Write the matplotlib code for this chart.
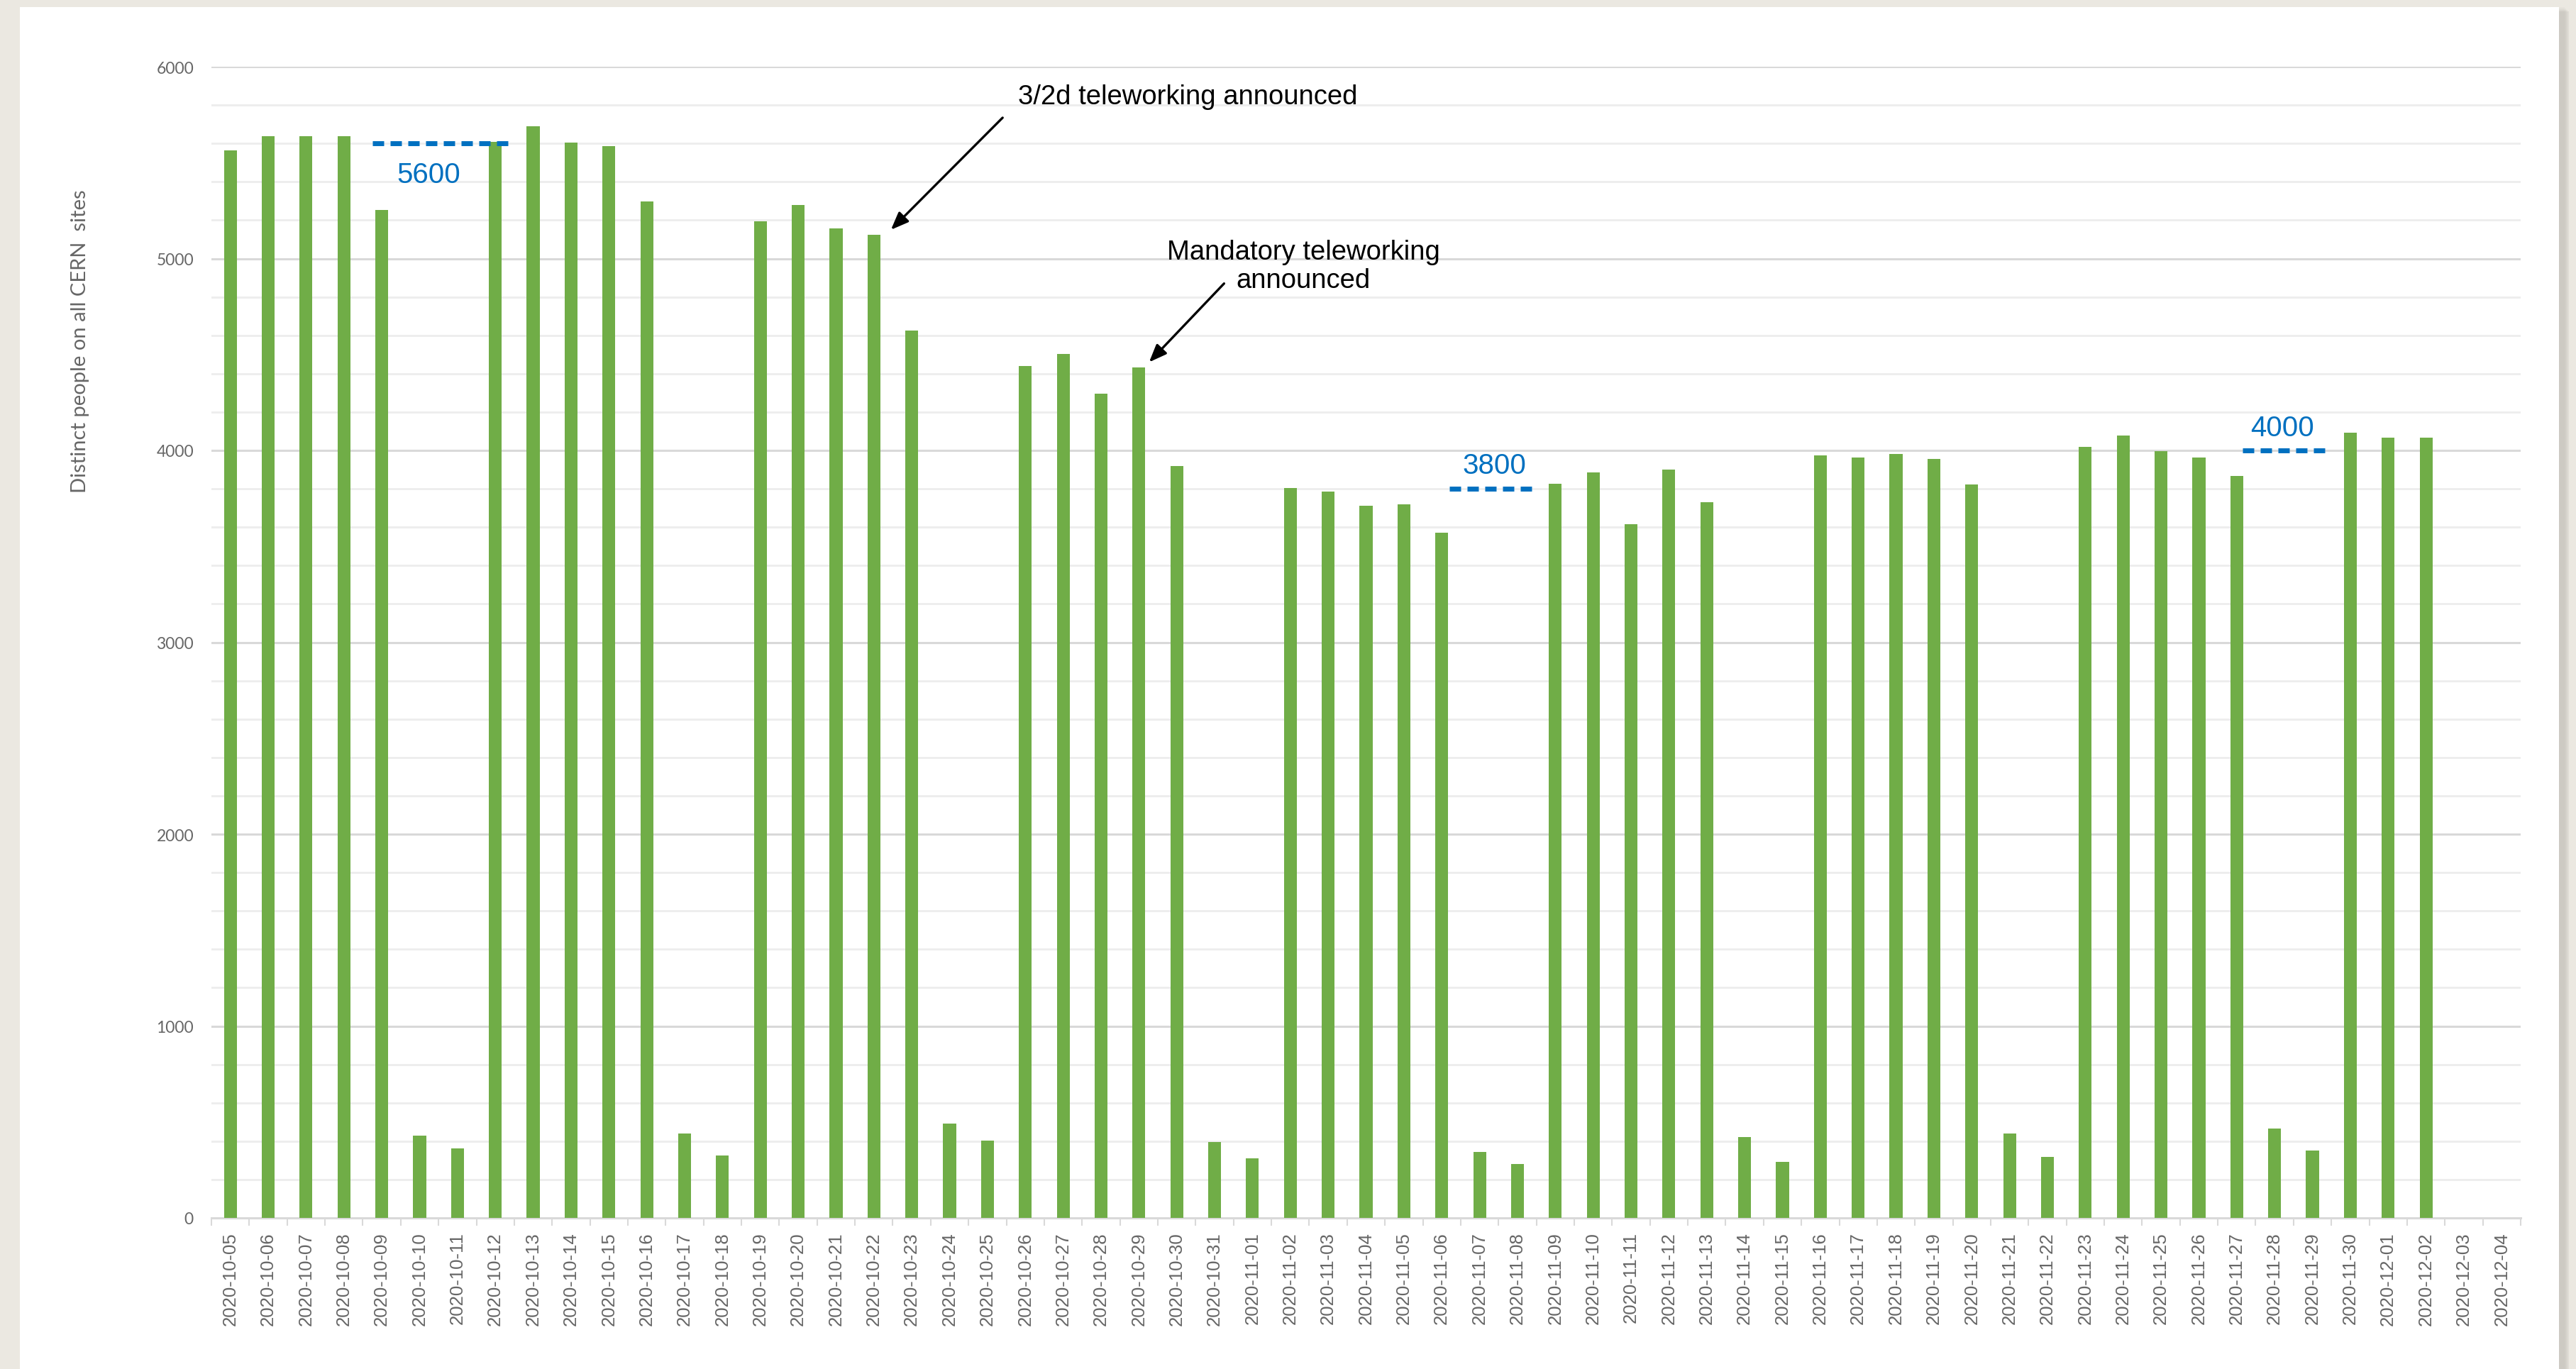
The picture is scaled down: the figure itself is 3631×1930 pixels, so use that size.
import numpy as np
import matplotlib.pyplot as plt
from matplotlib.patches import Rectangle
from matplotlib.ticker import MultipleLocator

# daily counts of distinct people on CERN sites
dates = ["2020-10-05", "2020-10-06", "2020-10-07", "2020-10-08", "2020-10-09", "2020-10-10",
         "2020-10-11", "2020-10-12", "2020-10-13", "2020-10-14", "2020-10-15", "2020-10-16",
         "2020-10-17", "2020-10-18", "2020-10-19", "2020-10-20", "2020-10-21", "2020-10-22",
         "2020-10-23", "2020-10-24", "2020-10-25", "2020-10-26", "2020-10-27", "2020-10-28",
         "2020-10-29", "2020-10-30", "2020-10-31", "2020-11-01", "2020-11-02", "2020-11-03",
         "2020-11-04", "2020-11-05", "2020-11-06", "2020-11-07", "2020-11-08", "2020-11-09",
         "2020-11-10", "2020-11-11", "2020-11-12", "2020-11-13", "2020-11-14", "2020-11-15",
         "2020-11-16", "2020-11-17", "2020-11-18", "2020-11-19", "2020-11-20", "2020-11-21",
         "2020-11-22", "2020-11-23", "2020-11-24", "2020-11-25", "2020-11-26", "2020-11-27",
         "2020-11-28", "2020-11-29", "2020-11-30", "2020-12-01", "2020-12-02", "2020-12-03",
         "2020-12-04"]
people = [5565, 5637, 5637, 5637, 5252, 430, 362, 5608, 5688, 5603, 5585, 5298,
          440, 325, 5193, 5279, 5158, 5122, 4624, 492, 403, 4441, 4503, 4294,
          4432, 3917, 396, 309, 3803, 3786, 3710, 3720, 3571, 344, 282, 3826,
          3887, 3615, 3902, 3730, 421, 291, 3974, 3964, 3983, 3955, 3822, 440,
          317, 4018, 4078, 3997, 3964, 3866, 465, 350, 4094, 4068, 4066, 0, 0]

# reference levels drawn as short dashed lines
ref_levels = [5600, 3800, 4000]
ref_x0 = [3.75, 32.2, 53.15]
ref_x1 = [7.45, 34.55, 55.5]
ref_label_x = [5.24, 33.39, 54.21]
ref_label_y = [5438, 3922, 4118]

green = "#70AD47"
blue = "#0070C0"
grey_txt = "#666666"

fig = plt.figure(figsize=(36.31, 19.31), dpi=100)
fig.patch.set_facecolor("#ebe8e1")

# white card with a soft shadow on the right
W, H = 3631.0, 1931.0
for k, a in enumerate([0.05, 0.07, 0.09, 0.12]):
    fig.patches.append(Rectangle(((28 + 4 * k) / W, 0), (3579 + 8 - 2 * k) / W, (1920 - 2 * k) / H,
                                 transform=fig.transFigure, facecolor="#8a8780", alpha=a,
                                 edgecolor="none", zorder=-3))
fig.patches.append(Rectangle((28 / W, 0), 3579 / W, 1920 / H, transform=fig.transFigure,
                             facecolor="white", edgecolor="none", zorder=-2))

ax = fig.add_axes([298 / W, 213 / H, 3255 / W, 1623 / H])
ax.set_facecolor("none")

x = np.arange(len(dates))
ax.bar(x, people, width=0.34, color=green, zorder=3)

ax.set_xlim(-0.5, len(dates) - 0.5)
ax.set_ylim(0, 6000)

# gridlines: major every 1000, minor every 200
ax.yaxis.set_major_locator(MultipleLocator(1000))
ax.yaxis.set_minor_locator(MultipleLocator(200))
ax.grid(axis="y", which="major", color="#d9d9d9", linewidth=2.2, zorder=1)
ax.grid(axis="y", which="minor", color="#ededed", linewidth=2.0, zorder=1)
ax.tick_params(axis="y", which="both", length=0, pad=18)
for lab in ax.get_yticklabels():
    lab.set_family("Lato")
    lab.set_fontsize(16.5)
    lab.set_color(grey_txt)

ax.set_xticks(x)
ax.set_xticklabels(dates, rotation=90, fontsize=18.5, color=grey_txt, family="Liberation Sans")
ax.set_xticks(np.arange(-0.5, len(dates), 1), minor=True)
ax.tick_params(axis="x", which="major", length=0, pad=14)
ax.tick_params(axis="x", which="minor", length=8, width=1.5, color="#d9d9d9")

for side in ["top", "right", "left"]:
    ax.spines[side].set_visible(False)
ax.spines["bottom"].set_color("#d9d9d9")
ax.spines["bottom"].set_linewidth(2.2)

fig.text(113 / W, 1 - 481 / H, "Distinct people on all CERN  sites", rotation=90,
         ha="center", va="center", fontsize=21, color=grey_txt, family="Lato")

# dashed reference levels
for lvl, x0, x1, lx, ly in zip(ref_levels, ref_x0, ref_x1, ref_label_x, ref_label_y):
    ax.plot([x0, x1], [lvl, lvl], color=blue, linewidth=5, linestyle=(0, (2.3, 1.3)),
            solid_capstyle="butt", dash_capstyle="butt", zorder=4)
    ax.text(lx, ly, str(lvl), color=blue, fontsize=29, ha="center", va="center",
            family="Liberation Sans", zorder=5)

# announcements
ax.text(25.3, 5845, "3/2d teleworking announced", fontsize=27.5, ha="center", va="center",
        family="Liberation Sans", color="black", zorder=5)
ax.annotate("", xy=(17.45, 5150), xytext=(20.4, 5734),
            arrowprops=dict(arrowstyle="-|>,head_length=1.5,head_width=0.6", color="black",
                            lw=2.4, shrinkA=0, shrinkB=0), zorder=5)
ax.text(28.35, 4960, "Mandatory teleworking\nannounced", fontsize=27.5, ha="center", va="center",
        multialignment="center", linespacing=1.15, family="Liberation Sans", color="black", zorder=5)
ax.annotate("", xy=(24.27, 4460), xytext=(26.25, 4870),
            arrowprops=dict(arrowstyle="-|>,head_length=1.5,head_width=0.6", color="black",
                            lw=2.4, shrinkA=0, shrinkB=0), zorder=5)

plt.savefig("out.png", dpi=100, facecolor=fig.get_facecolor())
plt.close()
